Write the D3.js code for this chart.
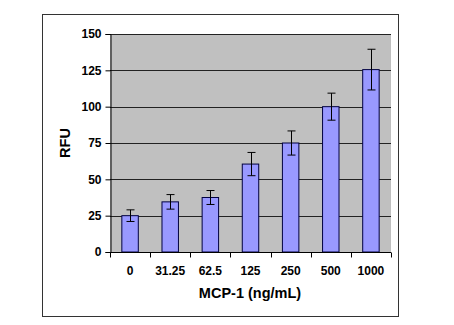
<!DOCTYPE html>
<html><head><meta charset="utf-8">
<script src="https://cdn.jsdelivr.net/npm/d3@7"></script>
<style>body{margin:0;background:#fff}svg{display:block}text{font-family:"Liberation Sans",Arial,sans-serif;font-weight:bold}</style>
</head><body>
<script>
const categories = ["0","31.25","62.5","125","250","500","1000"];
const values = [25, 34.5, 37.5, 60.5, 75, 100, 125.5];
const errors = [4, 5, 4.8, 8, 8.3, 9.3, 14];
const yTicks = [0,25,50,75,100,125,150];

const W=454,H=325;
const svg=d3.select("body").append("svg").attr("width",W).attr("height",H);
svg.append("rect").attr("x",42.5).attr("y",14.5).attr("width",356).attr("height",302)
  .attr("fill","#fff").attr("stroke","#333").attr("stroke-width",1);

const L=110,R=391,T=34,B=252;
const x=d3.scaleBand().domain(categories).range([L,R]).paddingInner(0.59).paddingOuter(0.295);
const xb=d3.scaleBand().domain(categories).range([L,R]);
const y=d3.scaleLinear().domain([0,150]).range([B,T]);

svg.append("rect").attr("x",L).attr("y",T).attr("width",R-L).attr("height",B-T).attr("fill","#c0c0c0");
svg.append("g").selectAll("line").data(yTicks.filter(d=>d>0)).join("line")
  .attr("x1",L).attr("x2",R).attr("y1",d=>Math.round(y(d))+0.5).attr("y2",d=>Math.round(y(d))+0.5)
  .attr("stroke","#222").attr("stroke-width",1);

svg.append("g").selectAll("rect").data(values).join("rect")
  .attr("x",(d,i)=>x(categories[i])).attr("width",x.bandwidth())
  .attr("y",d=>y(d)).attr("height",d=>B-y(d))
  .attr("fill","#9999ff").attr("stroke","#000040").attr("stroke-width",1);

const eg=svg.append("g").attr("stroke","#000").attr("stroke-width",1);
values.forEach((v,i)=>{
  const cx=Math.round(x(categories[i])+x.bandwidth()/2)+0.5;
  const t=y(v+errors[i]), b=y(v-errors[i]);
  eg.append("line").attr("x1",cx).attr("x2",cx).attr("y1",t).attr("y2",b);
  eg.append("line").attr("x1",cx-4).attr("x2",cx+4).attr("y1",t).attr("y2",t);
  eg.append("line").attr("x1",cx-4).attr("x2",cx+4).attr("y1",b).attr("y2",b);
});

// y axis
const ya=svg.append("g").attr("transform",`translate(${L+0.5},0)`)
  .call(d3.axisLeft(y).tickValues(yTicks).tickSize(5).tickPadding(4));
ya.select(".domain").attr("stroke","#000");
ya.selectAll("line").attr("stroke","#000");
ya.selectAll("text").attr("font-size",12).attr("font-family","Liberation Sans, Arial").attr("font-weight","bold").attr("fill","#000");

// x axis
const xa=svg.append("g").attr("transform",`translate(0,${B+0.5})`);
xa.append("line").attr("x1",L).attr("x2",R).attr("stroke","#000");
xa.selectAll("line.t").data(d3.range(categories.length+1)).join("line").attr("class","t")
  .attr("x1",i=>Math.round(L+i*xb.bandwidth())+0.5).attr("x2",i=>Math.round(L+i*xb.bandwidth())+0.5)
  .attr("y1",0).attr("y2",5).attr("stroke","#000");
xa.selectAll("text").data(categories).join("text")
  .attr("x",d=>xb(d)+xb.bandwidth()/2).attr("y",22).attr("text-anchor","middle")
  .attr("font-size",12).attr("fill","#000").text(d=>d);

svg.append("text").attr("x",250).attr("y",298).attr("text-anchor","middle").attr("font-size",14.5).text("MCP-1 (ng/mL)");
svg.append("text").attr("transform","translate(70,143) rotate(-90)").attr("text-anchor","middle").attr("font-size",14.5).text("RFU");
</script>
</body></html>
